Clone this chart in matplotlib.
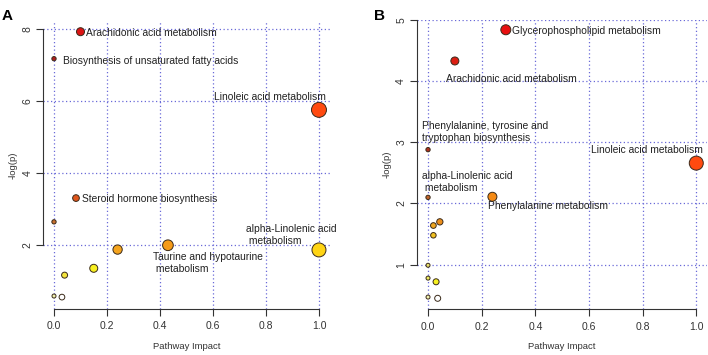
import matplotlib
matplotlib.use("Agg")
import matplotlib.pyplot as plt

plt.rcParams['font.family'] = ['Liberation Sans', 'DejaVu Sans']

# panel A: pathway impact vs -log(p)
a_impact = [0.10, 0.0, 1.0, 0.083, 0.0, 0.24, 0.43, 1.0, 0.15, 0.04, 0.0, 0.03]
a_logp = [7.92, 7.17, 5.75, 3.30, 2.64, 1.87, 1.99, 1.86, 1.35, 1.16, 0.58, 0.55]
a_size = [8, 4.3, 15, 6.7, 4.3, 9.3, 10.7, 14, 8, 6, 4, 5.7]
a_color = ['#dc1414', '#b01e1e', '#ff4a10', '#e0561c', '#c8702e', '#f5a41e',
           '#f59a1a', '#ffd414', '#f8f020', '#f4e43c', '#f0f0b0', '#ffffff']

# panel B
b_impact = [0.29, 0.10, 0.0, 1.0, 0.0, 0.24, 0.044, 0.02, 0.02, 0.0, 0.0, 0.03, 0.0, 0.036]
b_logp = [4.84, 4.33, 2.88, 2.66, 2.10, 2.11, 1.70, 1.64, 1.48, 0.99, 0.78, 0.72, 0.47, 0.45]
b_size = [10, 8, 4.3, 14, 4.3, 9, 6.3, 5.7, 5.5, 4, 4, 6, 4, 6]
b_color = ['#e81010', '#dc1e12', '#b0301e', '#ff4a10', '#c0642a', '#f58a14',
           '#ec8e1a', '#eea620', '#f0c020', '#e8e070', '#ecec60', '#f6f020',
           '#f0f0b0', '#ffffff']

# labels: (text, x, y, ha)
a_labels = [("Arachidonic acid metabolism", 0.121, 7.89, 'left'),
            ("Biosynthesis of unsaturated fatty acids", 0.035, 7.11, 'left'),
            ("Linoleic acid metabolism", 1.025, 6.10, 'right'),
            ("Steroid hormone biosynthesis", 0.105, 3.28, 'left'),
            ("alpha-Linolenic acid\n metabolism", 0.723, 2.28, 'left'),
            ("Taurine and hypotaurine\n metabolism", 0.372, 1.49, 'left')]
b_labels = [("Glycerophospholipid metabolism", 0.312, 4.82, 'left'),
            ("Arachidonic acid metabolism", 0.068, 4.04, 'left'),
            ("Phenylalanine, tyrosine and\ntryptophan biosynthesis", -0.022, 3.17, 'left'),
            ("Linoleic acid metabolism", 0.609, 2.87, 'left'),
            ("alpha-Linolenic acid\n metabolism", -0.022, 2.35, 'left'),
            ("Phenylalanine metabolism", 0.222, 1.96, 'left')]

x_ticks = [0.0, 0.2, 0.4, 0.6, 0.8, 1.0]
a_yticks = [2, 4, 6, 8]
b_yticks = [1, 2, 3, 4, 5]

fig = plt.figure(figsize=(7.08, 3.55), dpi=100)


def panel(rect, xs, ys, sizes, colors, labels, yticks, ylim):
    ax = fig.add_axes(rect)
    ax.set_xlim(-0.04, 1.04)
    ax.set_ylim(*ylim)
    for t in x_ticks:
        ax.axvline(t, color='#6a6ad8', ls=(0, (1, 2)), lw=0.9, zorder=0)
    for t in yticks:
        ax.axhline(t, color='#6a6ad8', ls=(0, (1, 2)), lw=0.9, zorder=0)
    ax.scatter(xs, ys, s=[(d * 0.72) ** 2 for d in sizes], c=colors,
               edgecolors='#3a2a1a', linewidths=0.7, zorder=3)
    for txt, x, y, ha in labels:
        ax.text(x, y, txt, ha=ha, va='center', fontsize=7.4, color='#222222',
                linespacing=1.2, zorder=4)
    for s in ['top', 'right']:
        ax.spines[s].set_visible(False)
    ax.spines['left'].set_bounds(yticks[0], yticks[-1])
    ax.spines['bottom'].set_bounds(0, 1)
    ax.spines['left'].set_color('#333333')
    ax.spines['bottom'].set_color('#333333')
    ax.set_xticks(x_ticks)
    ax.set_xticklabels(['%.1f' % t for t in x_ticks])
    ax.set_yticks(yticks)
    ax.set_yticklabels([str(t) for t in yticks], rotation=90, va='center')
    ax.tick_params(length=5, width=0.8, color='#333333', labelsize=7.5,
                   labelcolor='#333333')
    ax.tick_params(axis='x', pad=4)
    ax.tick_params(axis='y', pad=3)
    h = rect[3] * 355
    w = rect[2] * 708
    ax.set_xlabel('Pathway Impact', fontsize=6.8, color='#333333')
    ax.xaxis.set_label_coords(0.5, -33 / h)
    ax.set_ylabel('-log(p)', fontsize=6.8, color='#333333')
    ax.yaxis.set_label_coords(-26 / w, 0.5)
    return ax


panel([0.0613, 0.1296, 0.4042, 0.8085], a_impact, a_logp, a_size, a_color,
      a_labels, a_yticks, (0.22, 8.19))
panel([0.5894, 0.1287, 0.4092, 0.815], b_impact, b_logp, b_size, b_color,
      b_labels, b_yticks, (0.27, 5.0))

fig.text(0.003, 0.975, 'A', fontsize=11, fontweight='bold', va='top', ha='left')
fig.text(0.528, 0.975, 'B', fontsize=11, fontweight='bold', va='top', ha='left')

fig.savefig('out.png', dpi=100)
